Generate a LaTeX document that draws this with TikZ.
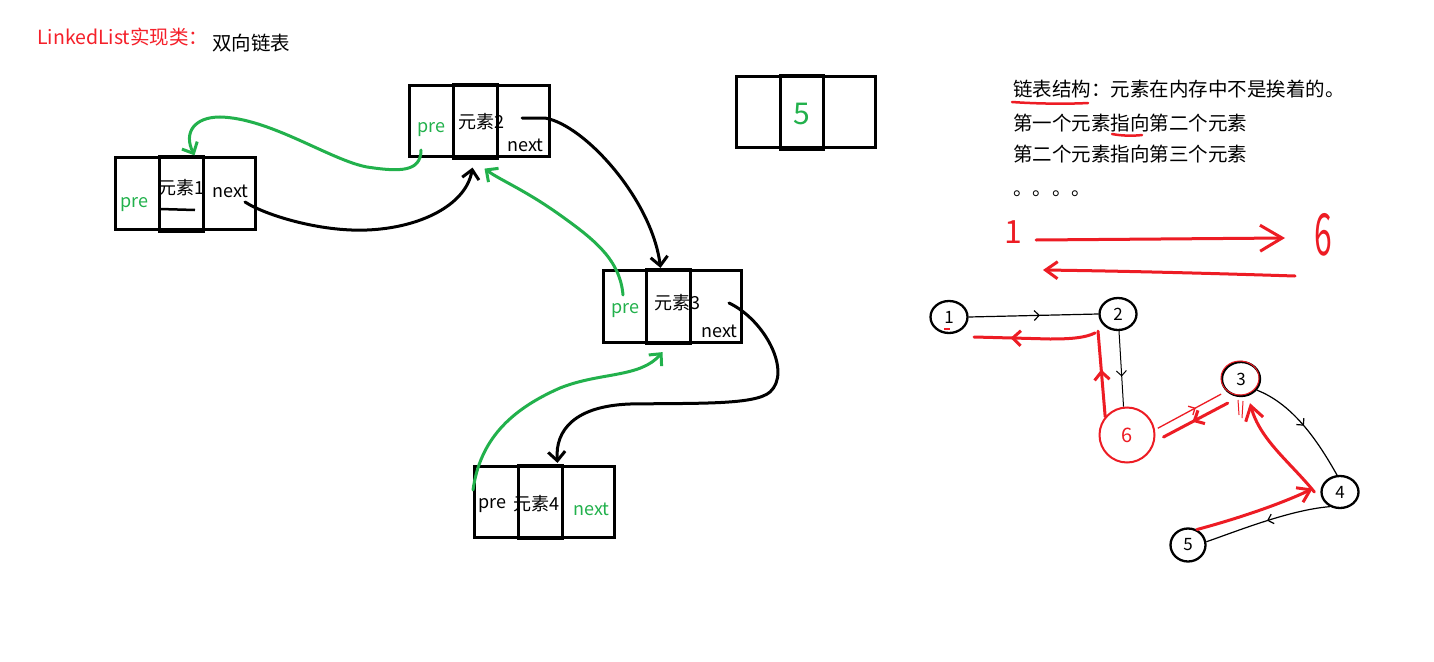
\documentclass[tikz,border=0pt]{standalone}
\usepackage{fontspec}
\setmainfont{Noto Sans CJK SC}
\usetikzlibrary{arrows.meta,shapes.geometric,decorations.markings}
\definecolor{pred}{RGB}{237,28,36}
\definecolor{tred}{RGB}{245,32,42}
\definecolor{pgreen}{RGB}{34,177,76}
\begin{document}
\begin{tikzpicture}[x=1pt,y=-1pt,
  txt/.style={anchor=base west,inner sep=0,font=\fontsize{18}{20}\selectfont},
  bigtxt/.style={anchor=base west,inner sep=0,font=\fontsize{19.5}{21}\selectfont},
  cellbox/.style={draw,line width=3pt,inner sep=0},
  midbox/.style={draw,line width=3.2pt,inner sep=0},
  barrow/.style={line width=3pt,line cap=round,-{Straight Barb[length=9pt,width=17pt]}},
  garrow/.style={barrow,pgreen},
  gnode/.style={draw,ellipse,line width=2.3pt,minimum width=37,minimum height=32,inner sep=0,font=\fontsize{17}{17}\selectfont},
  thinb/.style={line width=1.2pt},
  redthick/.style={pred,line width=3pt,line cap=round},
  redthin/.style={pred,line width=1.3pt},
  midarr/.style={postaction={decorate},decoration={markings,mark=at position #1 with {\arrow{Straight Barb[length=5pt,width=10pt]}}}},
  midarrR/.style={postaction={decorate},decoration={markings,mark=at position #1 with {\arrow{Straight Barb[length=8pt,width=15pt]}}}}
]
\fill[white] (0,0) rectangle (1434,661);
\useasboundingbox (0,0) rectangle (1434,661);

% title
\node[bigtxt,text=tred] (title) at (37,45) {LinkedList实现类：};
\node[bigtxt] (sub) at (212,51) {双向链表};

% box 1
\node[cellbox,minimum width=140,minimum height=72] (b1) at (185.5,193.5) {};
\node[midbox,minimum width=44,minimum height=74] (b1m) at (181.5,194) {};
\node[txt,text=pgreen] (p1) at (120,207) {pre};
\node[txt] (e1) at (158,194) {元素1};
\node[txt] (x1) at (212,197) {next};
\draw[line width=2.5pt] (160,209) -- (195,210);

% box 2
\node[cellbox,minimum width=140,minimum height=71] (b2) at (479.5,121) {};
\node[midbox,minimum width=44,minimum height=73] (b2m) at (475.5,121.5) {};
\node[txt,text=pgreen] (p2) at (417,132) {pre};
\node[txt] (e2) at (458,128) {元素2};
\node[txt] (x2) at (507,151) {next};

% box 3
\node[cellbox,minimum width=138,minimum height=72] (b3) at (672.5,306.5) {};
\node[midbox,minimum width=44,minimum height=74] (b3m) at (668.5,306.5) {};
\node[txt,text=pgreen] (p3) at (611,313) {pre};
\node[txt] (e3) at (654,309) {元素3};
\node[txt] (x3) at (701,337) {next};

% box 4
\node[cellbox,minimum width=140,minimum height=71] (b4) at (544.5,502) {};
\node[midbox,minimum width=44,minimum height=73] (b4m) at (540.5,502) {};
\node[txt] (p4) at (478,508) {pre};
\node[txt] (e4) at (513,510) {元素4};
\node[txt,text=pgreen] (x4) at (573,515) {next};

% box 5
\node[cellbox,minimum width=139,minimum height=71] (b5) at (806,112) {};
\node[midbox,minimum width=43,minimum height=73] (b5m) at (802,112.5) {};
\node[inner sep=0,text=pgreen,font=\fontsize{30}{30}\selectfont] (v5) at (802,114) {5};

% connectors between boxes
\coordinate (g1s) at (421,150);
\draw[garrow] (g1s) .. controls (421,172) and (400,172) .. (367,167)
  .. controls (330,160) and (270,118) .. (220,117)
  .. controls (195,117) and (183,132) .. ([xshift=13pt]b1m.north);
\coordinate (a1s) at (245,202);
\draw[barrow] (a1s) .. controls (265,215) and (320,232) .. (367,230)
  .. controls (420,228) and (466,205) .. ([shift={(-3,8)}]b2m.south);
\coordinate (a2s) at (522,118);
\draw[barrow] (a2s) -- (545,118) .. controls (585,125) and (652,200) .. ([xshift=-8pt]b3m.north);
\coordinate (g2s) at (623,295);
\draw[garrow] (g2s) .. controls (620,260) and (595,240) .. (560,215)
  .. controls (525,190) and (500,180) .. ([shift={(9,9)}]b2m.south);
\coordinate (a3s) at (729,303);
\draw[barrow] (a3s) .. controls (765,320) and (792,372) .. (770,392)
  .. controls (755,405) and (700,403) .. (630,404)
  .. controls (575,406) and (555,430) .. ([shift={(17,-1)}]b4m.north);
\coordinate (g3s) at (473,490);
\draw[garrow] (g3s) .. controls (480,440) and (510,410) .. (560,388)
  .. controls (600,372) and (640,378) .. ([shift={(-6,7)}]b3m.south);

% right text
\node[bigtxt] (t1) at (1013,96) {链表结构：元素在内存中不是挨着的。};
\node[bigtxt] (t2) at (1013,130) {第一个元素指向第二个元素};
\node[bigtxt] (t3) at (1013,161) {第二个元素指向第三个元素};
\node[bigtxt] (t4) at (1013,195) {。。。。};
\draw[redthick,line width=2.5pt] (1012,102) .. controls (1040,104) and (1070,104) .. (1088,103);
\draw[redthick,line width=2.5pt] (1112,134) .. controls (1122,136) and (1134,136) .. (1142,135);

% 1 -> 6 arrows
\node[inner sep=0,text=pred,font=\fontsize{32}{32}\selectfont] (r1) at (1013,232) {1};
\node[inner sep=0,text=pred] (r6) at (1323,235) {\scalebox{0.55}[1]{\fontsize{58}{58}\selectfont 6}};
\draw[redthick,-{Straight Barb[length=22pt,width=26pt]}] ([shift={(14,8)}]r1.east) -- (1285,238);
\coordinate (bk1) at (1295,276);
\coordinate (bk2) at (1043,270);
\draw[redthick,-{Straight Barb[length=12pt,width=17pt]}] (bk1) .. controls (1200,273) and (1120,271) .. (bk2);

% graph nodes
\node[gnode] (n1) at (949,317) {1};
\draw[pred,line width=1.5pt] (944,329) -- (950,329);
\node[gnode] (n2) at (1118,314) {2};
\node[gnode,minimum width=38,minimum height=34] (n3) at (1241,379) {3};
\draw[pred,line width=1pt] (1240,378) ellipse (19 and 17);
\node[gnode] (n4) at (1340,492) {4};
\node[gnode,minimum width=35,minimum height=33] (n5) at (1188,545) {5};
\node[draw=pred,circle,line width=2pt,minimum size=55,inner sep=0,text=pred,font=\fontsize{20}{20}\selectfont] (n6) at (1127,435) {6};
\draw[pred,line width=1pt] (1238,400) -- (1239,415) (1243,401) -- (1242,418);

% graph edges
\draw[thinb,midarr=0.55] (n1.east) -- (n2.west);
\coordinate (r21e) at (974,337);
\draw[redthick,midarrR=0.7] ([shift={(-10,6)}]n2.225) .. controls (1085,338) and (1070,339) .. (1050,339) -- (r21e);
\draw[thinb,line width=1pt,midarr=0.6] ([xshift=1pt]n2.south) -- (n6.97);
\draw[redthick,midarrR=0.55] (n6.140) -- ([xshift=-20pt]n2.south);
\draw[redthin,midarr=0.6] ([shift={(4,3)}]n6.20) -- ([shift={(-4,4)}]n3.215);
\draw[redthick,midarrR=0.55] ([shift={(-4,8)}]n3.240) -- ([shift={(8,2)}]n6.0);
\draw[thinb,midarr=0.5] (n3.-35) .. controls (1295,405) and (1320,445) .. (n4.100);
\draw[redthick,-{Straight Barb[length=14pt,width=18pt]}] ([xshift=-6pt]n4.west) .. controls (1290,462) and (1260,440) .. ([shift={(9,6)}]n3.south);
\draw[redthick,-{Straight Barb[length=12pt,width=16pt]}] (n5.60) .. controls (1240,518) and (1283,503) .. ([xshift=-8pt]n4.170);
\draw[thinb,midarr=0.5] (n4.235) .. controls (1290,510) and (1240,530) .. (n5.10);
\end{tikzpicture}
\end{document}
